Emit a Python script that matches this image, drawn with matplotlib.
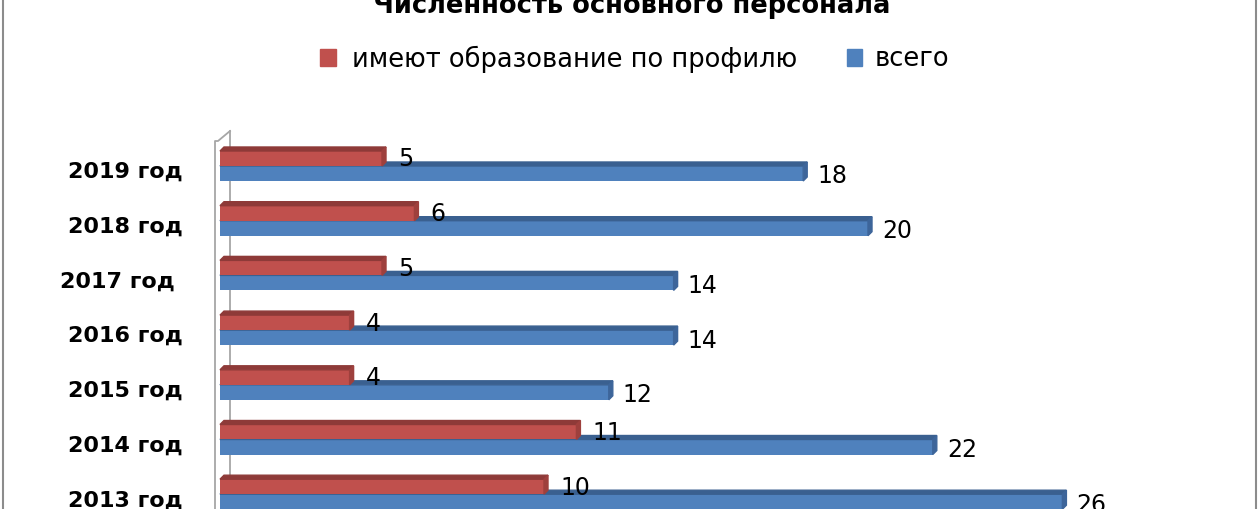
import matplotlib
matplotlib.use("Agg")
import matplotlib.pyplot as plt
from matplotlib.patches import Polygon
from matplotlib.lines import Line2D
import numpy as np

plt.rcParams['font.family'] = ['DejaVu Sans']

title = "Численность основного персонала"
categories = ['2019 год', '2018 год', '2017 год ', '2016 год', '2015 год', '2014 год', '2013 год']
profile = [5, 6, 5, 4, 4, 11, 10]
total = [18, 20, 14, 14, 12, 22, 26]
series_names = ['имеют образование по профилю', 'всего']

RED = '#C0504D'
BLUE = '#4F81BD'
RED_TOP = '#8E3A38'
RED_SIDE = '#9E403D'
BLUE_TOP = '#3A6090'
BLUE_SIDE = '#3D659A'

W, H = 1260, 510
fig = plt.figure(figsize=(W / 100, H / 100), dpi=100)


def fx(x):
    return x / W


def fy(y):
    return 1 - y / H


px_per_unit = 32.4
cat_step = 54.7
ax_left, ax_right, ax_top = 220, 1240, 128
ax = fig.add_axes([fx(ax_left), 0, (ax_right - ax_left) / W, (H - ax_top) / H])
ax.set_xlim(0, (ax_right - ax_left) / px_per_unit)
ax.set_ylim((H - 167) / cat_step, -(167 - ax_top) / cat_step)
ax.axis('off')

pos = np.arange(len(categories))
h = 15 / cat_step
dx = 4 / px_per_unit
dy = 4 / cat_step

# wall lines (figure pixels)
wall_col = '#A6A6A6'
fig.add_artist(Line2D([fx(230), fx(230)], [fy(132), fy(H)], color=wall_col, lw=1.3, zorder=0))
fig.add_artist(Line2D([fx(215), fx(215), fx(218), fx(230)], [fy(H), fy(142), fy(142), fy(132)],
                      color=wall_col, lw=1.3, zorder=0))

# outer chart border
fig.add_artist(Line2D([fx(3), fx(3)], [0, 1], color='#8C8C8C', lw=1.5))
fig.add_artist(Line2D([fx(1256), fx(1256)], [0, 1], color='#8C8C8C', lw=1.5))


def bars3d(centers, values, face, top, side):
    cont = ax.barh(centers, values, height=h, color=face, zorder=3)
    for r in cont:
        x0, y0 = r.get_x(), r.get_y()
        w, hh = r.get_width(), r.get_height()
        ytop = y0  # inverted axis: smaller y is higher
        ybot = y0 + hh
        ax.add_patch(Polygon([(x0, ytop), (x0 + w, ytop), (x0 + w + dx, ytop - dy), (x0 + dx, ytop - dy)],
                             closed=True, color=top, zorder=3, clip_on=False))
        ax.add_patch(Polygon([(x0 + w, ytop), (x0 + w, ybot), (x0 + w + dx, ybot - dy), (x0 + w + dx, ytop - dy)],
                             closed=True, color=side, zorder=3, clip_on=False))
    return cont


blue = bars3d(pos + h / 2, total, BLUE, BLUE_TOP, BLUE_SIDE)
red = bars3d(pos - h / 2, profile, RED, RED_TOP, RED_SIDE)

for c, v in zip(pos + h / 2, total):
    ax.annotate(str(v), (v, c), xytext=(14, -2), textcoords='offset pixels',
                ha='left', va='center', fontsize=17, color='black', annotation_clip=False, zorder=5)
for c, v in zip(pos - h / 2, profile):
    ax.annotate(str(v), (v, c), xytext=(16, 0), textcoords='offset pixels',
                ha='left', va='center', fontsize=17, color='black', annotation_clip=False, zorder=5)

for c, lab in zip(pos, categories):
    ax.annotate(lab, (0, c), xytext=(-37, -5), textcoords='offset pixels',
                ha='right', va='center', fontsize=16, fontweight='bold', color='black',
                annotation_clip=False)

# title (cut at top)
fig.text(fx(632), fy(13), title, ha='center', va='baseline', fontsize=18.5, fontweight='bold')

# legend
fig.add_artist(Polygon([(fx(320), fy(50)), (fx(336), fy(50)), (fx(336), fy(67)), (fx(320), fy(67))],
                       closed=True, color=RED, transform=fig.transFigure))
fig.text(fx(352), fy(59), series_names[0], ha='left', va='center', fontsize=18.5)
fig.add_artist(Polygon([(fx(847), fy(50)), (fx(862), fy(50)), (fx(862), fy(67)), (fx(847), fy(67))],
                       closed=True, color=BLUE, transform=fig.transFigure))
fig.text(fx(875), fy(59), series_names[1], ha='left', va='center', fontsize=18.5)

fig.savefig('out.png', dpi=100)
